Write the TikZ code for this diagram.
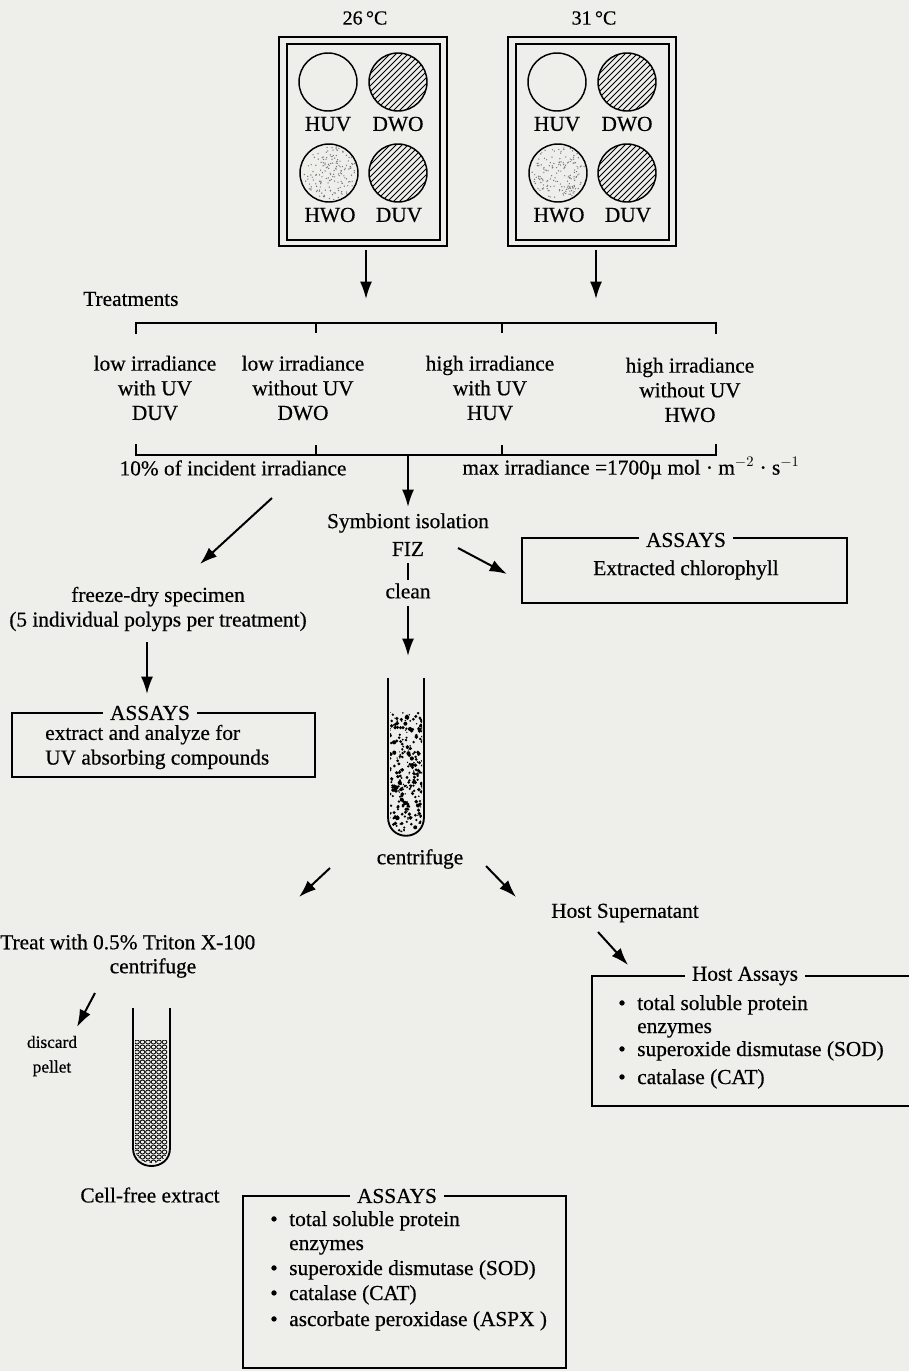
\documentclass[tikz,border=0pt]{standalone}
\usepackage{fontspec}
\setmainfont{Liberation Serif}[FakeBold=0.5]
\usetikzlibrary{arrows.meta,fit}
\definecolor{paper}{RGB}{238,238,235}
\begin{document}
\begin{tikzpicture}[x=0.75pt,y=-0.75pt,
  txt/.style={inner sep=0pt, font=\fontsize{16}{18.5}\selectfont, align=center},
  small/.style={inner sep=0pt, font=\fontsize{13}{18.5}\selectfont, align=center},
  arr/.style={-{Latex[length=13pt,width=9pt]}, line width=1.5pt},
  frame/.style={line width=1.3pt},
  circ/.style={line width=1.1pt},
  boxtitle/.style={txt, fill=paper, inner xsep=5pt, inner ysep=1pt},
  item/.style={txt, anchor=base west},
]
\fill[paper] (0,0) rectangle (909,1371);
\useasboundingbox (0,0) rectangle (909,1371);
\pgfmathsetseed{7}

% ---------------- tanks ----------------
\foreach \dx/\nm/\tc in {0/A/26,229/B/31} {
  \node[txt, font=\fontsize{15}{18}\selectfont] (temp\nm) at (365+\dx,18) {\tc\,°C};
  \node[fit={(279+\dx,37) (447+\dx,246)}, draw, frame, inner sep=0pt] (tank\nm) {};
  \draw[frame] (287+\dx,44) rectangle (440+\dx,240);
  % hatched wells
  \foreach \cy in {82,173} {
    \begin{scope}
      \clip (398+\dx,\cy) circle[radius=29];
      \foreach \i in {-66,-60,...,66}
        \draw[line width=0.7pt] (398+\dx+\i-32,\cy+32) -- (398+\dx+\i+32,\cy-32);
    \end{scope}
    \draw[circ] (398+\dx,\cy) circle[radius=29];
  }
  % stippled well
  \foreach \k in {1,...,160} {
    \pgfmathsetmacro\rr{27*sqrt(rnd)}
    \pgfmathsetmacro\aa{360*rnd}
    \fill[black!55] ({330+\dx+\rr*cos(\aa)},{173+\rr*sin(\aa)}) circle[radius=0.7];
  }
  \draw[circ] (329+\dx,173) circle[radius=29];
  % clear well
  \draw[circ] (328+\dx,82) circle[radius=29];
  \node[txt] (huv\nm) at (328+\dx,124) {HUV};
  \node[txt] (dwo\nm) at (398+\dx,124) {DWO};
  \node[txt] (hwo\nm) at (330+\dx,215) {HWO};
  \node[txt] (duv\nm) at (399+\dx,215) {DUV};
}
\coordinate (aA0) at (366,250); \coordinate (aA1) at (366,299);
\coordinate (aB0) at (596,250); \coordinate (aB1) at (596,299);
\draw[arr] (aA0) -- (aA1);
\draw[arr] (aB0) -- (aB1);

% ---------------- treatments ----------------
\node[txt, anchor=west] (treat) at (83,299) {Treatments};
\draw[frame] (136,334) -- (136,323) -- (716,323) -- (716,334);
\draw[frame] (316,323) -- (316,333) (502,323) -- (502,333);
\draw[frame] (136,444) -- (136,455) -- (716,455) -- (716,444);
\draw[frame] (316,455) -- (316,445) (502,455) -- (502,445);

\node[txt] (tduv) at (155,388) {low irradiance\\with UV\\DUV};
\node[txt] (tdwo) at (303,388) {low irradiance\\without UV\\DWO};
\node[txt] (thuv) at (490,388) {high irradiance\\with UV\\HUV};
\node[txt] (thwo) at (690,390) {high irradiance\\without UV\\HWO};

\node[txt] (low) at (233,468) {10\% of incident irradiance};
\node[txt] (max) at (631,468) {max irradiance =1700µ mol · m$^{-2}$ · s$^{-1}$};

% ---------------- symbiont isolation ----------------
\coordinate (c0) at (408,455); \coordinate (c1) at (408,507);
\draw[arr] (c0) -- (c1);
\node[txt] (symb) at (408,523) {Symbiont isolation};
\node[txt] (fiz) at (408,549) {FIZ};
\node[txt] (clean) at (408,591) {clean};
\draw[line width=1.5pt] (408,563) -- (408,580);
\coordinate (c2) at (408,606); \coordinate (c3) at (408,656);
\draw[arr] (c2) -- (c3);

\coordinate (d0) at (272,498); \coordinate (d1) at (200,564);
\draw[arr] (d0) -- (d1);
\node[txt] (freeze) at (158,609) {freeze-dry specimen\\(5 individual polyps per treatment)};
\coordinate (e0) at (147,642); \coordinate (e1) at (147,694);
\draw[arr] (e0) -- (e1);

% left assays box
\draw[frame] (12,713) rectangle (315,777);
\node[boxtitle] (lassay) at (150,713) {ASSAYS};
\node[txt, anchor=west, align=left] (ltext) at (45,747) {extract and analyze for\\UV absorbing compounds};

% right assays box
\coordinate (f0) at (458,548); \coordinate (f1) at (507,574);
\draw[arr] (f0) -- (f1);
\draw[frame] (522,538) rectangle (847,603);
\node[boxtitle] (rassay) at (686,540) {ASSAYS};
\node[txt] (chl) at (686,570) {Extracted chlorophyll};

% ---------------- test tube 1 ----------------
\begin{scope}
  \clip (390,712) -- (390,817) .. controls (390,838) and (422,838) .. (422,817) -- (422,712) -- cycle;
  \foreach \k in {1,...,300} {
    \pgfmathsetmacro\px{389+34*rnd}
    \pgfmathsetmacro\py{711+128*rnd}
    \pgfmathsetmacro\rd{0.6+1.5*rnd}
    \fill (\px,\py) circle[radius=\rd];
  }
\end{scope}
\draw[line width=1.4pt] (388,678) -- (388,817) .. controls (388,842) and (424,842) .. (424,817) -- (424,678);
\node[txt] (cent1) at (420,859) {centrifuge};
\coordinate (g0) at (330,868); \coordinate (g1) at (299,897);
\draw[arr] (g0) -- (g1);
\coordinate (h0) at (486,866); \coordinate (h1) at (516,897);
\draw[arr] (h0) -- (h1);

% ---------------- host side ----------------
\node[txt] (host) at (625,913) {Host Supernatant};
\coordinate (i0) at (598,932); \coordinate (i1) at (628,965);
\draw[arr] (i0) -- (i1);
\draw[frame] (909,976) -- (592,976) -- (592,1106) -- (909,1106);
\node[boxtitle] (hassay) at (745,976) {Host Assays};
\foreach \yy/\bul/\tx in {1010/•/total soluble protein, 1033//enzymes, 1056/•/superoxide dismutase (SOD), 1084/•/catalase (CAT)} {
  \node[item] at (618,\yy) {\bul};
  \node[item] at (637,\yy) {\tx};
}

% ---------------- cell-free branch ----------------
\node[txt, anchor=west] (triton) at (0,942) {Treat with 0.5\% Triton X-100};
\node[txt] (cent2) at (153,968) {centrifuge};
\coordinate (j0) at (95,993); \coordinate (j1) at (77,1027);
\draw[arr] (j0) -- (j1);
\node[small] (discard) at (52,1056) {discard\\pellet};

\begin{scope}
  \clip (135,1040) -- (135,1148) .. controls (135,1168) and (168,1168) .. (168,1148) -- (168,1040) -- cycle;
  \foreach \yy in {1042,1047,...,1170} {
    \foreach \xx in {137,142.5,...,168} {
      \draw[line width=0.6pt] (\xx,\yy) ellipse[x radius=2.4, y radius=2];
    }
  }
\end{scope}
\draw[line width=1.4pt] (133,1008) -- (133,1148) .. controls (133,1172) and (170,1172) .. (170,1148) -- (170,1008);
\node[txt] (cellfree) at (150,1195) {Cell-free extract};

% bottom assays box
\draw[frame] (243,1196) rectangle (566,1368);
\node[boxtitle] (bassay) at (397,1196) {ASSAYS};
\foreach \yy/\bul/\tx in {1226/•/total soluble protein, 1250//enzymes, 1275/•/superoxide dismutase (SOD), 1300/•/catalase (CAT), 1326/•/ascorbate peroxidase (ASPX )} {
  \node[item] at (270,\yy) {\bul};
  \node[item] at (289,\yy) {\tx};
}
\end{tikzpicture}
\end{document}
